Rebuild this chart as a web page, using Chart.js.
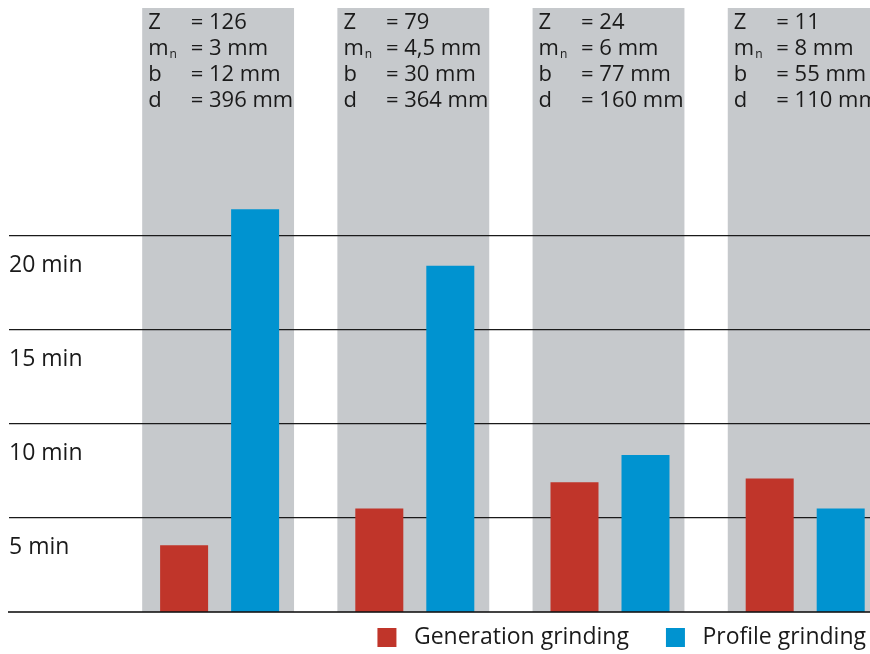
<!DOCTYPE html>
<html><head><meta charset="utf-8">
<script src="https://cdn.jsdelivr.net/npm/chart.js@4/dist/chart.umd.min.js"></script>
<style>
html,body{margin:0;padding:0;background:#fff;overflow:hidden;}
#wrap{position:relative;width:870px;height:654px;}
canvas{display:block;}
</style></head><body>
<div id="wrap"><canvas id="c" width="870" height="654"></canvas></div>
<script>
// ---- data ----
const categories = ['Z = 126', 'Z = 79', 'Z = 24', 'Z = 11'];
const generationGrinding = [3.55, 5.5, 6.9, 7.1];
const profileGrinding = [21.4, 18.4, 8.35, 5.5];
const yTicks = [5, 10, 15, 20];
const toothCount = ['126', '79', '24', '11'];
const normalModule = ['3 mm', '4,5 mm', '6 mm', '8 mm'];
const faceWidth = ['12 mm', '30 mm', '77 mm', '55 mm'];
const diameter = ['396 mm', '364 mm', '160 mm', '110 mm'];
const seriesNames = ['Generation grinding', 'Profile grinding'];

// ---- style ----
const FONT = "'Open Sans', sans-serif";
const TEXT = '#1a1a1a';
const RED = '#c0352a', BLUE = '#0093d0', PANEL = '#c6c9cc';

const positions = categories.map((_, i) => i + 1);

const panelPlugin = {
  id: 'panels',
  beforeDraw(chart) {
    const {ctx, chartArea, scales: {x}} = chart;
    const unit = x.getPixelForValue(2) - x.getPixelForValue(1);
    const half = unit * 0.389;
    ctx.save();
    positions.forEach((p, i) => {
      const cx = x.getPixelForValue(p) - 1.5;
      const left = cx - half;
      ctx.fillStyle = PANEL;
      ctx.fillRect(left, chartArea.top, half * 2, chartArea.bottom - chartArea.top);
      ctx.fillStyle = TEXT;
      ctx.textBaseline = 'alphabetic';
      ctx.textAlign = 'left';
      const rows = [['Z', toothCount[i]], ['m', normalModule[i]], ['b', faceWidth[i]], ['d', diameter[i]]];
      rows.forEach((r, k) => {
        const y = chartArea.top + 21 + 26 * k;
        ctx.font = `22px ${FONT}`;
        ctx.fillText(r[0], left + 6, y);
        const mw = ctx.measureText(r[0]).width;
        ctx.fillText('= ' + r[1], left + 48.5, y);
        if (k === 1) {
          ctx.font = `12px ${FONT}`;
          ctx.fillText('n', left + 7 + mw, y + 3);
        }
      });
    });
    ctx.restore();
  }
};

new Chart(document.getElementById('c'), {
  type: 'bar',
  data: {
    datasets: [
      {label: seriesNames[0], data: positions.map((p, i) => ({x: p, y: generationGrinding[i]})), backgroundColor: RED, borderWidth: 0},
      {label: seriesNames[1], data: positions.map((p, i) => ({x: p, y: profileGrinding[i]})), backgroundColor: BLUE, borderWidth: 0}
    ]
  },
  options: {
    responsive: false,
    animation: false,
    devicePixelRatio: 1,
    categoryPercentage: 0.7275,
    barPercentage: 0.676,
    layout: {padding: {left: 9, top: 8, right: -10, bottom: 0}},
    scales: {
      x: {
        type: 'linear',
        offset: false,
        min: -0.079,
        max: 4.332,
        afterBuildTicks(s) { s.ticks = positions.map(v => ({value: v})); },
        ticks: {display: false},
        grid: {display: false},
        border: {display: true, color: 'rgba(20,20,20,0.8)', width: 2, z: 1},
        afterFit(s) { s.height = 0; s.paddingLeft = 0; s.paddingRight = 0; }
      },
      y: {
        min: 0,
        max: 32.1,
        position: 'left',
        afterBuildTicks(s) { s.ticks = yTicks.map(v => ({value: v})); },
        afterFit(s) { s.width = 0; s.paddingTop = 0; s.paddingBottom = 0; },
        ticks: {
          mirror: true, padding: 0, labelOffset: 30, color: TEXT,
          font: {family: FONT, size: 23},
          callback: v => v + ' min'
        },
        grid: {color: '#1a1a1a', lineWidth: 1.2, drawTicks: false},
        border: {display: false}
      }
    },
    plugins: {
      tooltip: {enabled: false},
      legend: {
        position: 'bottom',
        align: 'end',
        maxHeight: 42,
        labels: {
          boxWidth: 19, boxHeight: 19, padding: 14, color: TEXT,
          font: {family: FONT, size: 23},
          generateLabels(chart) {
            const items = Chart.defaults.plugins.legend.labels.generateLabels(chart);
            items.forEach((it, i) => { it.text = ' ' + it.text + (i < items.length - 1 ? '\u2003' : ''); });
            return items;
          }
        }
      }
    }
  },
  plugins: [panelPlugin]
});
</script>
</body></html>
